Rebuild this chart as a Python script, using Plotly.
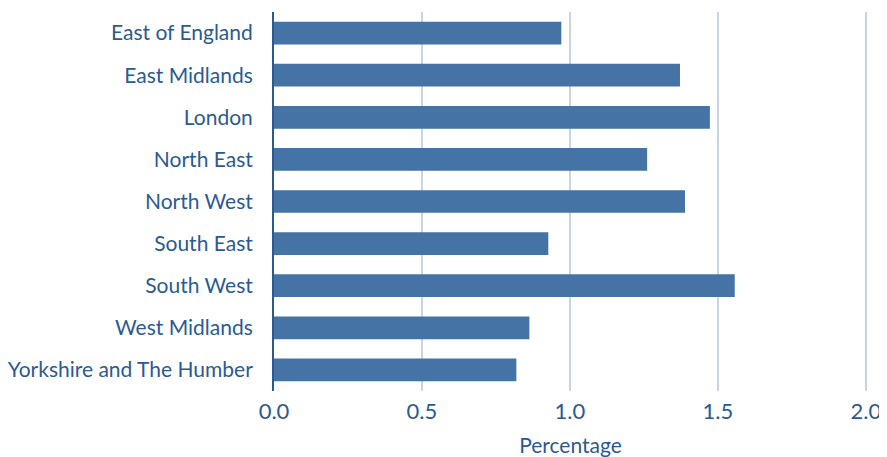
import plotly.graph_objects as go

regions = ["East of England", "East Midlands", "London", "North East", "North West",
           "South East", "South West", "West Midlands", "Yorkshire and The Humber"]
values = [0.971, 1.372, 1.473, 1.261, 1.389, 0.927, 1.557, 0.863, 0.819]
x_ticks = [0.0, 0.5, 1.0, 1.5, 2.0]
x_tick_labels = ["0.0", "0.5", "1.0", "1.5", "2.0"]

text_color = "#2b5a92"
bar_color = "#4673a5"
font_family = "Lato, 'Open Sans', sans-serif"

fig = go.Figure(go.Bar(
    x=values, y=regions, orientation="h",
    marker=dict(color=bar_color, line=dict(width=0)),
))

fig.update_layout(
    width=879, height=449,
    margin=dict(l=266, r=20, t=4, b=66, autoexpand=False),
    paper_bgcolor="white", plot_bgcolor="white",
    bargap=0.46,
    showlegend=False,
    font=dict(family=font_family, color=text_color, size=20),
)
fig.update_xaxes(
    range=[0, 2.004], tickvals=x_ticks, ticktext=x_tick_labels,
    showgrid=True, gridcolor="#c8d5e5", gridwidth=2,
    zeroline=False, showline=False, ticks="",
    ticklabelstandoff=5, automargin=False,
    tickfont=dict(size=22, color=text_color),
    title=dict(text="Percentage", font=dict(size=21, color=text_color), standoff=16),
)
fig.update_yaxes(
    autorange="reversed", showgrid=False, zeroline=False,
    showline=True, linecolor=text_color, linewidth=2,
    ticks="", ticklabelstandoff=15, automargin=False,
    tickfont=dict(size=21, color=text_color),
)

fig.write_html("out.html")
